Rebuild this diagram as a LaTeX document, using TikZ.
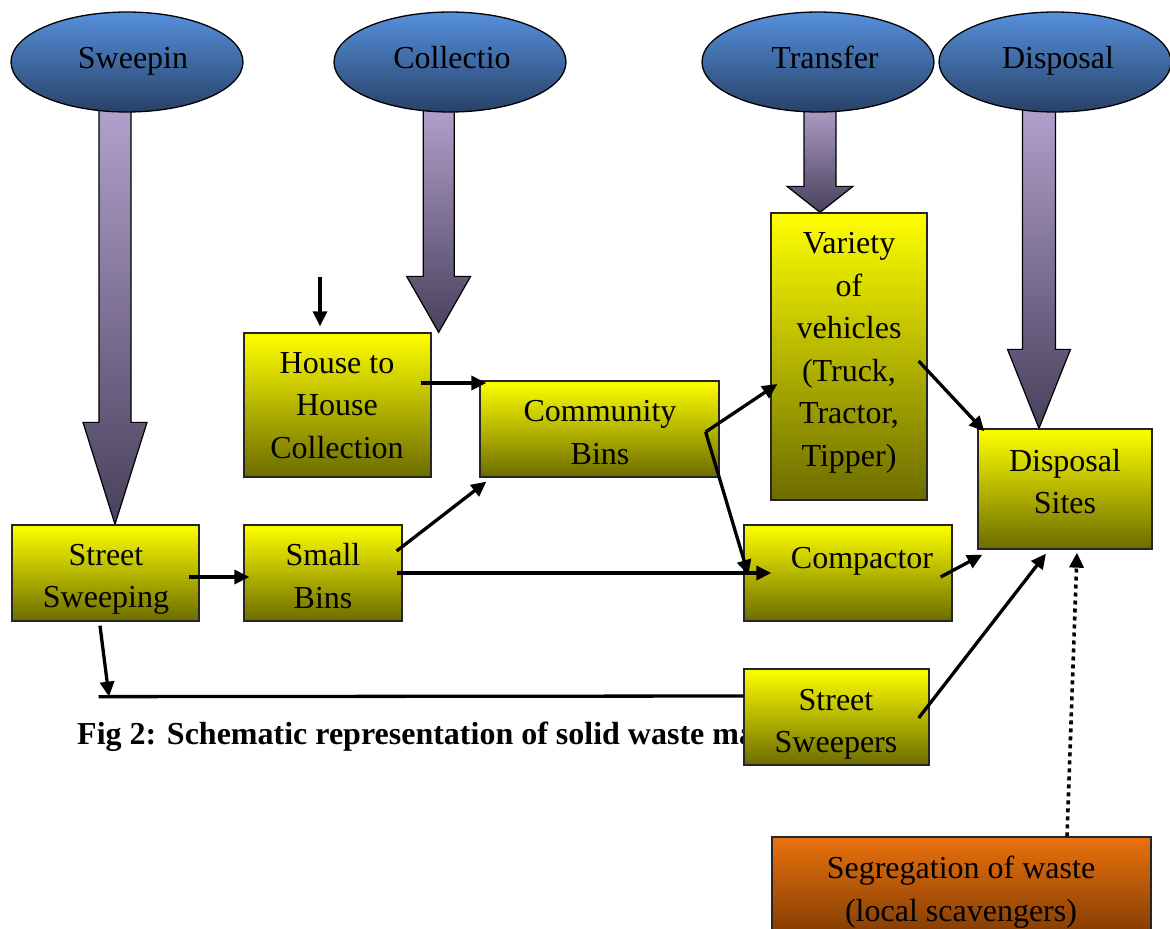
\documentclass[tikz,border=0pt]{standalone}
\usepackage{fontspec}
\setmainfont{Liberation Serif}
\usetikzlibrary{arrows.meta,calc,shapes.geometric}
\definecolor{ytop}{RGB}{255,255,0}
\definecolor{ybot}{RGB}{108,108,0}
\definecolor{etop}{RGB}{86,144,220}
\definecolor{ebot}{RGB}{40,66,104}
\definecolor{atop}{RGB}{180,162,206}
\definecolor{abot}{RGB}{72,64,92}
\definecolor{otop}{RGB}{234,114,14}
\definecolor{obot}{RGB}{96,42,0}
\pgfdeclarelayer{bg}
\pgfsetlayers{bg,main}
\newcommand\bigarr[5]{%
  \path[bigarrow] let \p1=(#1), \p2=(#2) in
  (\x2-#3pt,\y1) -- (\x2+#3pt,\y1) -- (\x2+#3pt,\y2+#5pt) -- (\x2+#4pt,\y2+#5pt)
  -- (\x2,\y2) -- (\x2-#4pt,\y2+#5pt) -- (\x2-#3pt,\y2+#5pt) -- cycle;}
\begin{document}
\begin{tikzpicture}[x=1pt,y=-1pt,
  box/.style={draw=black!85, line width=1.3pt, rectangle, top color=ytop, bottom color=ybot, inner sep=0pt},
  obox/.style={box, top color=otop, bottom color=obot},
  oval/.style={draw=black, line width=1.3pt, ellipse, top color=etop, bottom color=ebot,
    minimum width=232pt, minimum height=100pt, inner sep=0pt},
  txt/.style={align=center, font=\fontsize{32}{42.5}\selectfont, inner sep=0pt,
    execute at begin node=\strut, execute at end node=\strut},
  captxt/.style={font=\fontsize{32}{42.5}\selectfont\bfseries, anchor=west, inner sep=0pt,
    execute at begin node=\strut},
  conn/.style={line width=3.3pt, -{Triangle[length=15pt,width=14pt]}},
  plainline/.style={line width=3.3pt},
  dotline/.style={line width=3.6pt, dash pattern=on 4pt off 4pt, -{Triangle[length=15pt,width=14pt]}},
  bigarrow/.style={draw=black, line width=1.2pt, top color=atop, bottom color=abot, line join=miter},
]
\useasboundingbox (0,0) rectangle (1170,929);

% ellipses
\node[oval] (esw) at (127,62) {};
\node[oval] (eco) at (450,62) {};
\node[oval] (etr) at (818,62) {};
\node[oval] (edi) at (1055,62) {};
\node[txt] (tesw) at (133,59.5) {Sweepin};
\node[txt] (teco) at (452,59.5) {Collectio};
\node[txt] (tetr) at (825,59.5) {Transfer};
\node[txt] (tedi) at (1058,59.5) {Disposal};

% caption (partly hidden by the Street Sweepers box)
\node[captxt] (cap) at (77,736) {Fig 2: Schematic representation of solid waste ma};

% boxes
\node[box, minimum width=187pt, minimum height=144pt] (house) at (337.5,405) {};
\node[box, minimum width=239pt, minimum height=96pt] (comm) at (599.5,429) {};
\node[box, minimum width=156pt, minimum height=287pt] (vari) at (849,356.5) {};
\node[box, minimum width=174pt, minimum height=120pt] (disp) at (1065,489) {};
\node[box, minimum width=187pt, minimum height=96pt] (ssweep) at (105.5,573) {};
\node[box, minimum width=158pt, minimum height=96pt] (small) at (323,573) {};
\node[box, minimum width=208pt, minimum height=96pt] (comp) at (848,573) {};
\node[box, minimum width=185pt, minimum height=96pt] (sweepers) at (836.5,717) {};
\node[obox, minimum width=379pt, minimum height=130pt] (seg) at (961.5,902) {};

% box texts
\node[txt] (thouse) at (337,411.5) {House to\\House\\Collection};
\node[txt] (tcomm) at (600,439) {Community\\Bins};
\node[txt] (tvari) at (849,356) {Variety\\of\\vehicles\\(Truck,\\Tractor,\\Tipper)};
\node[txt] (tdisp) at (1065,488) {Disposal\\Sites};
\node[txt] (tssweep) at (106,582.5) {Street\\Sweeping};
\node[txt] (tsmall) at (323,582.5) {Small\\Bins};
\node[txt] (tcomp) at (862,559.5) {Compactor};
\node[txt] (tsweepers) at (836,727.5) {Street\\Sweepers};
\node[txt] (tseg) at (961,895) {Segregation of waste\\(local scavengers)};

% big block arrows (behind the ellipses)
\coordinate (swtop) at ($(esw.center)+(-12,40)$);
\coordinate (swtip) at ($(ssweep.north)+(9.5,0)$);
\coordinate (cotop) at ($(eco.center)+(-11,40)$);
\coordinate (cotip) at ($(house.north east)+(7,0)$);
\coordinate (trtop) at ($(etr.center)+(2,40)$);
\coordinate (trtip) at ($(vari.north)+(-29,0)$);
\coordinate (ditop) at ($(edi.center)+(-16,40)$);
\coordinate (ditip) at ($(disp.north)+(-26,0)$);
\begin{pgfonlayer}{bg}
\bigarr{swtop}{swtip}{16}{32}{102}
\bigarr{cotop}{cotip}{15.5}{32}{56}
\bigarr{trtop}{trtip}{16}{33}{26}
\bigarr{ditop}{ditip}{16.5}{31.5}{79}
\end{pgfonlayer}

% connectors
\coordinate (hin0) at ($(house.north)+(-17.5,-55)$);
\coordinate (hin1) at ($(house.north)+(-17.5,-6)$);
\draw[conn] (hin0) -- (hin1);

\coordinate (hout) at ($(house.east)+(-11,-22)$);
\coordinate (cin) at ($(comm.west)+(7,-46)$);
\draw[conn] (hout) -- (cin);

\coordinate (cb) at ($(comm.east)+(-14,3)$);
\coordinate (vin) at ($(vari.west)+(7,27.5)$);
\coordinate (cpin) at ($(comp.west)+(5,2)$);
\draw[conn] (cb) -- (vin);
\draw[conn] (cb) -- (cpin);

\coordinate (vout) at ($(vari.east)+(-9,4.5)$);
\coordinate (dnw) at ($(disp.north west)+(7,3)$);
\draw[conn] (vout) -- (dnw);

\coordinate (cpout) at ($(comp.east)+(-12,4)$);
\coordinate (dsw) at ($(disp.south west)+(5,5)$);
\draw[conn] (cpout) -- (dsw);

\coordinate (sbout1) at ($(small.east)+(-6,-22)$);
\coordinate (csw) at ($(comm.south west)+(7,4)$);
\draw[conn] (sbout1) -- (csw);

\coordinate (sbout2) at ($(small.east)+(-6,0)$);
\coordinate (cpin2) at ($(comp.west)+(28,0)$);
\draw[conn] (sbout2) -- (cpin2);

\coordinate (ssout) at ($(ssweep.east)+(-11,4)$);
\coordinate (sbin) at ($(small.west)+(6,4)$);
\draw[conn] (ssout) -- (sbin);

\coordinate (ssdown) at ($(ssweep.south)+(-5.5,4)$);
\coordinate (ssend) at ($(ssweep.south)+(3.5,75)$);
\draw[conn] (ssdown) -- (ssend);
\coordinate (hl0) at ($(ssweep.south)+(-7,75)$);
\coordinate (hl1) at ($(sweepers.west)+(0,-21)$);
\draw[plainline] (hl0) -- (hl1);

\coordinate (swout) at ($(sweepers.east)+(-11,1)$);
\coordinate (dsin) at ($(disp.south)+(-19,4)$);
\draw[conn] (swout) -- (dsin);

\coordinate (segout) at ($(seg.north)+(105.5,0)$);
\coordinate (dsin2) at ($(disp.south)+(12,3)$);
\draw[dotline] (segout) -- (dsin2);
\end{tikzpicture}
\end{document}
